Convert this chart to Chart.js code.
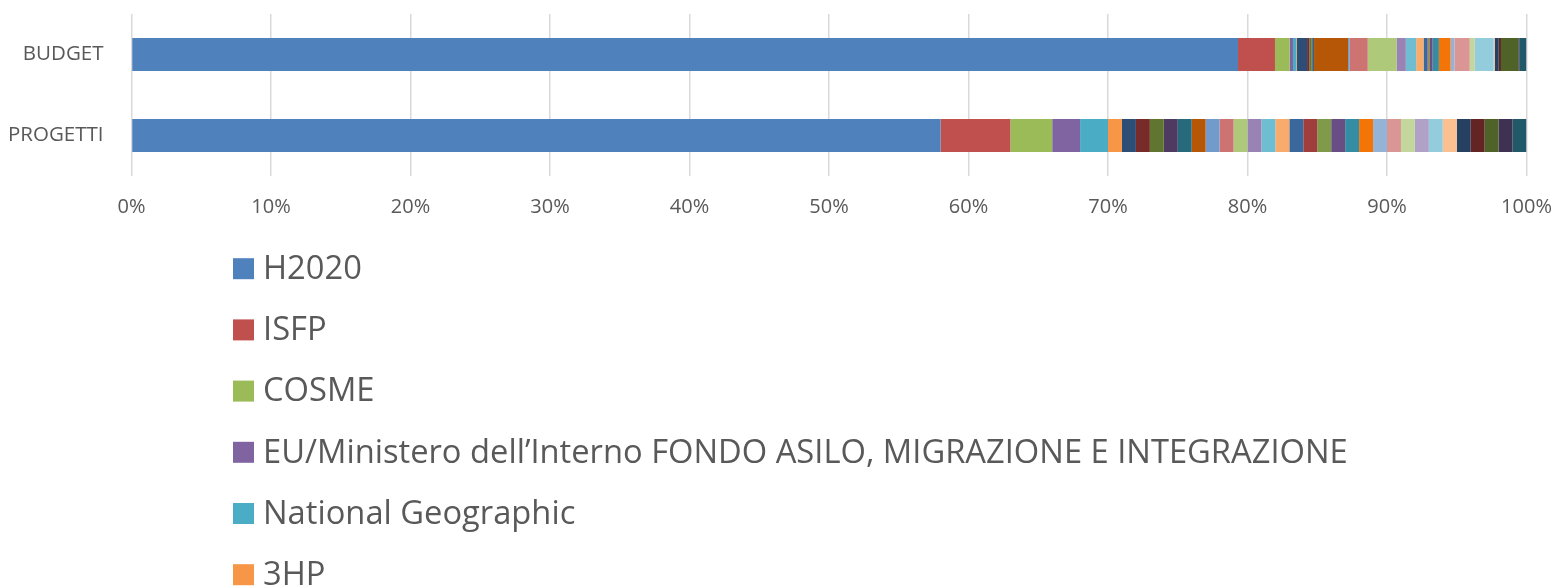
<!DOCTYPE html>
<html>
<head>
<meta charset="utf-8">
<script src="https://cdn.jsdelivr.net/npm/chart.js@4.4.1/dist/chart.umd.min.js"></script>
<style>
  html, body { margin: 0; padding: 0; background: #ffffff; overflow: hidden; }
  #wrap { width: 1558px; height: 588px; position: relative; }
</style>
</head>
<body>
<div id="wrap"><canvas id="c" width="1558" height="588"></canvas></div>
<script>
// Categories (top to bottom)
const categories = ['BUDGET', 'PROGETTI'];

// Series names (only the first six are visible in the reference legend)
const seriesNames = [
  'H2020', 'ISFP', 'COSME',
  'EU/Ministero dell\u2019Interno FONDO ASILO, MIGRAZIONE E INTEGRAZIONE',
  'National Geographic', '3HP',
  'Serie 7', 'Serie 8', 'Serie 9', 'Serie 10', 'Serie 11', 'Serie 12',
  'Serie 13', 'Serie 14', 'Serie 15', 'Serie 16', 'Serie 17', 'Serie 18',
  'Serie 19', 'Serie 20', 'Serie 21', 'Serie 22', 'Serie 23', 'Serie 24',
  'Serie 25', 'Serie 26', 'Serie 27', 'Serie 28', 'Serie 29', 'Serie 30',
  'Serie 31', 'Serie 32', 'Serie 33', 'Serie 34', 'Serie 35'
];

// Share (%) of each series in BUDGET
const budgetShares = [
  79.32, 2.65, 1.05, 0.24, 0.24, 0.05,
  0.72, 0.17, 0.16, 0.07, 0.10, 2.44,
  0.12, 1.29, 2.06, 0.67, 0.74, 0.53,
  0.29, 0.07, 0.10, 0.19, 0.45, 0.84,
  0.27, 1.10, 0.36, 0.02, 1.34, 0.07,
  0.29, 0.16, 1.24, 0.07, 0.52
];

// Share (%) of each series in PROGETTI
const progettiShares = [
  58, 5, 3, 2, 2, 1,
  1, 1, 1, 1, 1, 1,
  1, 1, 1, 1, 1, 1,
  1, 1, 1, 1, 1, 1,
  1, 1, 1, 1, 1, 1,
  1, 1, 1, 1, 1
];

// Series colours
const seriesColors = [
  '#4F81BD', '#C0504D', '#9BBB59', '#8064A2', '#4BACC6', '#F79646',
  '#2C4D75', '#772C2A', '#5F7530', '#4D3B62', '#276A7C', '#B65708',
  '#729ACA', '#CD7371', '#AFC97A', '#9983B5', '#6FBDD1', '#F9AB6B',
  '#3A679C', '#9F3E3C', '#7F9A48', '#684E84', '#358DA3', '#F47507',
  '#95B3D7', '#D99694', '#C3D69B', '#B2A1C7', '#93CDDD', '#FAC090',
  '#254061', '#632523', '#4F6228', '#3F3151', '#215968'
];

// Axis ticks
const xTickValues = [0, 10, 20, 30, 40, 50, 60, 70, 80, 90, 100];

const TEXT_COLOR = '#595959';
const FONT = '"Open Sans", "Noto Sans", sans-serif';

const datasets = seriesNames.map((name, i) => ({
  label: name,
  data: [budgetShares[i], progettiShares[i]],
  backgroundColor: seriesColors[i],
  borderWidth: 0,
  categoryPercentage: 1.0,
  barPercentage: 0.407
}));

// Vertical legend below the plot, drawn from the datasets
const verticalLegend = {
  id: 'verticalLegend',
  afterDraw(chart) {
    const ctx = chart.ctx;
    const o = chart.options.plugins.verticalLegend;
    ctx.save();
    ctx.font = o.fontSize + 'px ' + FONT;
    ctx.textBaseline = 'middle';
    ctx.textAlign = 'left';
    chart.data.datasets.forEach((ds, i) => {
      const cy = o.top + i * o.step;
      if (cy - o.box > chart.height) return;
      ctx.fillStyle = ds.backgroundColor;
      ctx.fillRect(o.left, cy - o.box / 2, o.box, o.box);
      ctx.fillStyle = TEXT_COLOR;
      ctx.fillText(ds.label, o.left + o.box + 9, cy + 1);
    });
    ctx.restore();
  }
};

new Chart(document.getElementById('c'), {
  type: 'bar',
  data: { labels: categories, datasets },
  plugins: [verticalLegend],
  options: {
    indexAxis: 'y',
    responsive: false,
    animation: false,
    devicePixelRatio: 1,
    layout: { padding: { top: 14, right: 31.5, bottom: 352, left: 0 } },
    plugins: {
      legend: { display: false },
      tooltip: { enabled: false },
      verticalLegend: { top: 268.7, step: 61.2, left: 233, box: 21, fontSize: 32.7 }
    },
    scales: {
      x: {
        stacked: true,
        min: 0,
        max: 100,
        afterBuildTicks(scale) {
          scale.ticks = xTickValues.map(v => ({ value: v }));
        },
        afterFit(scale) {
          scale.height = 60;
          scale.paddingLeft = 0;
          scale.paddingRight = 0;
        },
        border: { display: false },
        grid: { color: '#D9D9D9', lineWidth: 1.5, drawTicks: false },
        ticks: {
          padding: 19,
          color: TEXT_COLOR,
          font: { family: FONT, size: 20 },
          callback: v => v + '%'
        }
      },
      y: {
        stacked: true,
        afterFit(scale) {
          scale.width = 131.5;
          scale.paddingTop = 0;
          scale.paddingBottom = 0;
        },
        border: { display: false },
        grid: { display: false, drawTicks: false },
        ticks: {
          padding: 28,
          color: TEXT_COLOR,
          font: { family: FONT, size: 20.5 }
        }
      }
    }
  }
});
</script>
</body>
</html>
